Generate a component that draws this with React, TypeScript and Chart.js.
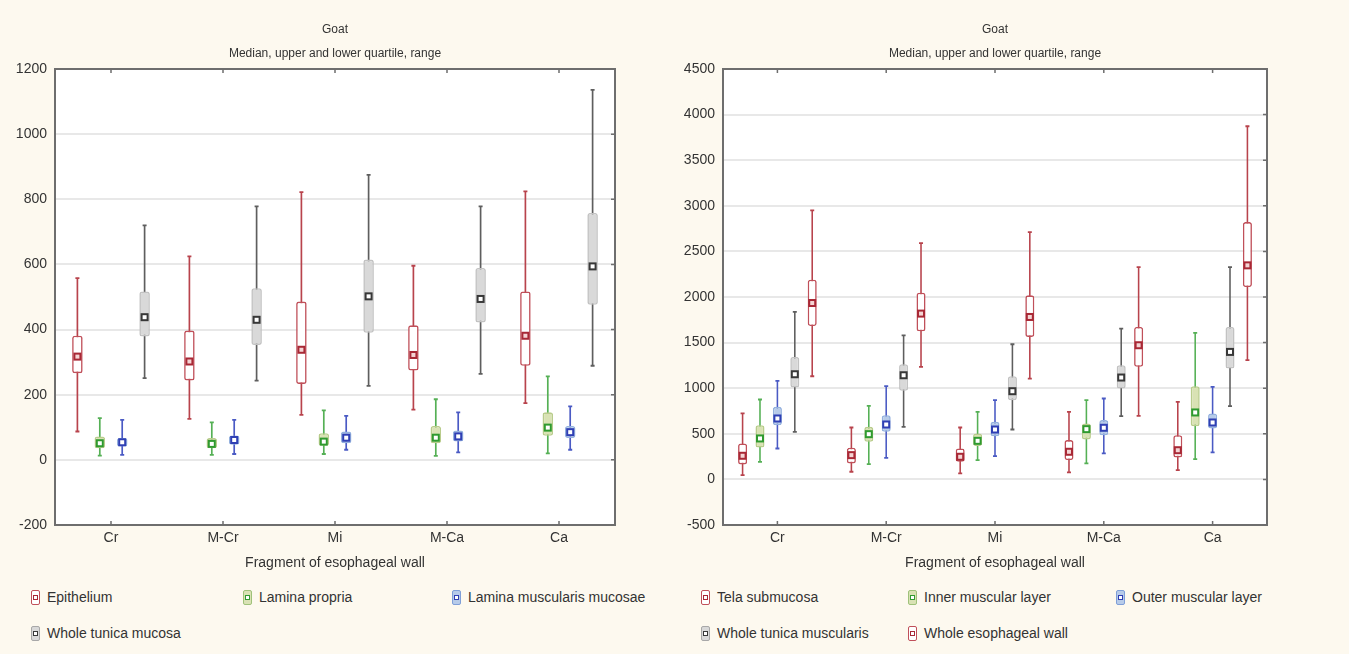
import React, { useEffect, useRef } from 'react';
import { Chart, registerables } from 'chart.js';
Chart.register(...registerables);

// [min, lower quartile, median, upper quartile, max] per fragment
const categories = ['Cr', 'M-Cr', 'Mi', 'M-Ca', 'Ca'];

const epithelium = [[87, 266, 317, 381, 558], [126, 244, 302, 397, 625], [138, 233, 338, 486, 822], [154, 274, 322, 413, 596], [174, 289, 381, 517, 824]];
const laminaPropria = [[13, 36, 51, 72, 128], [15, 36, 49, 67, 115], [18, 43, 56, 82, 152], [12, 51, 68, 104, 186], [20, 74, 99, 146, 256]];
const laminaMuscularisMucosae = [[15, 41, 54, 67, 123], [18, 46, 61, 75, 123], [31, 51, 68, 87, 135], [23, 56, 72, 90, 146], [31, 67, 85, 104, 164]];
const wholeTunicaMucosa = [[251, 379, 438, 517, 720], [243, 353, 430, 527, 778], [227, 390, 502, 615, 875], [264, 422, 494, 589, 778], [289, 476, 594, 758, 1136]];

const telaSubmucosa = [[47, 164, 259, 394, 723], [84, 175, 266, 347, 569], [66, 193, 248, 339, 569], [77, 212, 303, 431, 741], [102, 241, 320, 485, 850]];
const innerMuscularLayer = [[193, 350, 449, 595, 876], [168, 412, 496, 577, 807], [212, 365, 423, 504, 741], [175, 438, 551, 613, 869], [223, 584, 734, 1022, 1606]];
const outerMuscularLayer = [[339, 595, 668, 796, 1080], [237, 522, 602, 704, 1022], [255, 474, 547, 631, 869], [285, 485, 566, 650, 887], [296, 558, 624, 723, 1015]];
const wholeTunicaMuscularis = [[522, 1007, 1153, 1343, 1836], [577, 971, 1142, 1263, 1580], [547, 869, 967, 1131, 1482], [693, 996, 1117, 1252, 1653], [803, 1215, 1398, 1672, 2328]];
const wholeEsophagealWall = [[1131, 1682, 1934, 2190, 2949], [1234, 1624, 1818, 2047, 2591], [1106, 1562, 1781, 2018, 2712], [697, 1234, 1471, 1672, 2328], [1307, 2109, 2347, 2821, 3872]];

const leftTicks = { min: -200, max: 1200, step: 200 };
const rightTicks = { min: -500, max: 4500, step: 500 };

const FONT = "'Liberation Sans', Arial, sans-serif";

const RED = { line: '#b8434c', fill: '#ffffff', border: '#c0505a', marker: '#a82835', markerFill: '#f4d4d4', icon: '#c0505a' };
const GREEN = { line: '#55b055', fill: '#d9e2b4', border: '#b9cc8c', marker: '#2f9a2f', markerFill: '#ffffff', icon: '#9fc27a' };
const BLUE = { line: '#4a5ac4', fill: '#b7cbe9', border: '#94b1de', marker: '#2f3fb4', markerFill: '#ffffff', icon: '#7f9fd8' };
const GRAY = { line: '#5e5e5e', fill: '#d9d9d9', border: '#c2c2c2', marker: '#383838', markerFill: '#ffffff', icon: '#a8a8a8' };

type Series = { label: string; data: number[][]; c: typeof RED };

const leftSeries: Series[] = [
  { label: 'Epithelium', data: epithelium, c: RED },
  { label: 'Lamina propria', data: laminaPropria, c: GREEN },
  { label: 'Lamina muscularis mucosae', data: laminaMuscularisMucosae, c: BLUE },
  { label: 'Whole tunica mucosa', data: wholeTunicaMucosa, c: GRAY },
];
const rightSeries: Series[] = [
  { label: 'Tela submucosa', data: telaSubmucosa, c: RED },
  { label: 'Inner muscular layer', data: innerMuscularLayer, c: GREEN },
  { label: 'Outer muscular layer', data: outerMuscularLayer, c: BLUE },
  { label: 'Whole tunica muscularis', data: wholeTunicaMuscularis, c: GRAY },
  { label: 'Whole esophageal wall', data: wholeEsophagealWall, c: RED },
];

const extrasPlugin = {
  id: 'boxExtras',
  beforeDraw(chart: any) {
    const { ctx, chartArea: a } = chart;
    ctx.save();
    ctx.fillStyle = '#ffffff';
    ctx.fillRect(a.left, a.top, a.right - a.left, a.bottom - a.top);
    ctx.restore();
  },
  afterDatasetsDraw(chart: any, _args: any, opts: any) {
    const { ctx } = chart;
    const y = chart.scales.y;
    const series: Series[] = opts.series;
    const ms = opts.markerSize;
    ctx.save();
    series.forEach((s, i) => {
      const meta = chart.getDatasetMeta(2 * i);
      meta.data.forEach((el: any, j: number) => {
        const d = s.data[j];
        const x = el.x;
        ctx.strokeStyle = s.c.line;
        ctx.lineWidth = 1.8;
        ctx.beginPath();
        [d[0], d[4]].forEach((v) => {
          const py = y.getPixelForValue(v);
          ctx.moveTo(x - 2, py);
          ctx.lineTo(x + 2, py);
        });
        ctx.stroke();
        const my = y.getPixelForValue(d[2]);
        ctx.fillStyle = s.c.markerFill;
        ctx.fillRect(x - ms / 2, my - ms / 2, ms, ms);
        ctx.strokeStyle = s.c.marker;
        ctx.lineWidth = 2;
        ctx.strokeRect(x - ms / 2, my - ms / 2, ms, ms);
      });
    });
    ctx.restore();
  },
  afterDraw(chart: any) {
    const { ctx, chartArea: a } = chart;
    const x = chart.scales.x;
    const y = chart.scales.y;
    ctx.save();
    ctx.strokeStyle = '#6e6e6e';
    ctx.lineWidth = 2;
    ctx.strokeRect(a.left, a.top, a.right - a.left, a.bottom - a.top);
    ctx.lineWidth = 1.5;
    ctx.beginPath();
    x.ticks.forEach((_t: any, i: number) => {
      const px = x.getPixelForTick(i);
      ctx.moveTo(px, a.top);
      ctx.lineTo(px, a.top + 4);
      ctx.moveTo(px, a.bottom);
      ctx.lineTo(px, a.bottom - 4);
    });
    y.ticks.forEach((_t: any, i: number) => {
      const py = y.getPixelForTick(i);
      ctx.moveTo(a.right, py);
      ctx.lineTo(a.right - 4, py);
    });
    ctx.stroke();
    ctx.restore();
  },
};

function BoxChart(props: {
  series: Series[]; ticks: { min: number; max: number; step: number };
  width: number; height: number; yWidth: number; padRight: number;
  boxPct: number; whiskerPct: number; markerSize: number;
}) {
  const ref = useRef<HTMLCanvasElement>(null);
  useEffect(() => {
    const { series, ticks, yWidth, padRight, boxPct, whiskerPct, markerSize } = props;
    const datasets: any[] = [];
    series.forEach((s, i) => {
      datasets.push({
        label: s.label,
        data: s.data.map((d) => [d[1], d[3]]),
        stack: 's' + i,
        order: 1,
        backgroundColor: s.c.fill,
        borderColor: s.c.border,
        borderWidth: 1.6,
        borderSkipped: false,
        borderRadius: 2.5,
        barPercentage: boxPct,
        categoryPercentage: 0.8,
      });
      datasets.push({
        label: s.label + ' range',
        data: s.data.map((d) => [d[0], d[4]]),
        stack: 's' + i,
        order: 2,
        backgroundColor: s.c.line,
        borderWidth: 0,
        barPercentage: whiskerPct,
        categoryPercentage: 0.8,
      });
    });
    const chart = new Chart(ref.current!, {
      type: 'bar',
      data: { labels: categories, datasets },
      plugins: [extrasPlugin],
      options: {
        responsive: false,
        animation: false,
        layout: { padding: { left: 0, right: padRight, top: 0, bottom: 0 } },
        plugins: {
          legend: { display: false },
          tooltip: { enabled: false },
          title: {
            display: true, text: 'Goat', color: '#333', fullSize: false,
            font: { family: FONT, size: 12, weight: 'normal' },
            padding: { top: 22.8, bottom: 0 },
          },
          subtitle: {
            display: true, text: 'Median, upper and lower quartile, range', color: '#333', fullSize: false,
            font: { family: FONT, size: 12, weight: 'normal' },
            padding: { top: 9.6, bottom: 7.8 },
          },
          boxExtras: { series, markerSize },
        } as any,
        scales: {
          x: {
            stacked: true,
            grid: { display: false, drawTicks: false },
            border: { display: false },
            ticks: { color: '#333', padding: 5, font: { family: FONT, size: 14 } },
            title: {
              display: true, text: 'Fragment of esophageal wall', color: '#333',
              font: { family: FONT, size: 14 }, padding: { top: 0, bottom: 8.6 },
            },
            afterFit: (sc: any) => { sc.height = 55; },
          },
          y: {
            stacked: false,
            min: ticks.min, max: ticks.max,
            grid: { color: '#e8e8e8', lineWidth: 2, drawTicks: false },
            border: { display: false },
            ticks: {
              stepSize: ticks.step, padding: 8, color: '#333',
              font: { family: FONT, size: 14 },
              callback: (v: any) => String(v),
            },
            afterFit: (sc: any) => { sc.width = yWidth; },
          },
        },
      } as any,
    });
    return () => chart.destroy();
  }, []);
  return <canvas ref={ref} width={props.width} height={props.height} style={{ display: 'block' }} />;
}

function LegendItem(props: { label: string; c: typeof RED; x: number; y: number }) {
  const { label, c, x, y } = props;
  return (
    <div style={{ position: 'absolute', left: x, top: y - 9, height: 18, display: 'flex', alignItems: 'center', whiteSpace: 'nowrap' }}>
      <div style={{
        width: 7, height: 13, border: `1.5px solid ${c.icon}`, borderRadius: 2,
        background: c.fill, display: 'flex', alignItems: 'center', justifyContent: 'center', marginRight: 7,
      }}>
        <div style={{ width: 3, height: 3, border: `1.5px solid ${c.marker}`, background: '#fff' }} />
      </div>
      <span style={{ fontFamily: FONT, fontSize: 14, color: '#333' }}>{label}</span>
    </div>
  );
}

export default function App() {
  const row1 = 597, row2 = 633;
  return (
    <div style={{ position: 'fixed', left: 0, top: 0, width: 1349, height: 654, background: '#fdf9ef', overflow: 'hidden' }}>
      <div style={{ position: 'absolute', left: 0, top: 0 }}>
        <BoxChart series={leftSeries} ticks={leftTicks} width={674} height={580} yWidth={55} padRight={59}
          boxPct={0.47} whiskerPct={0.075} markerSize={6} />
      </div>
      <div style={{ position: 'absolute', left: 674, top: 0 }}>
        <BoxChart series={rightSeries} ticks={rightTicks} width={675} height={580} yWidth={49} padRight={82}
          boxPct={0.52} whiskerPct={0.09} markerSize={6} />
      </div>
      <LegendItem label={leftSeries[0].label} c={leftSeries[0].c} x={31} y={row1} />
      <LegendItem label={leftSeries[1].label} c={leftSeries[1].c} x={243} y={row1} />
      <LegendItem label={leftSeries[2].label} c={leftSeries[2].c} x={452} y={row1} />
      <LegendItem label={leftSeries[3].label} c={leftSeries[3].c} x={31} y={row2} />
      <LegendItem label={rightSeries[0].label} c={rightSeries[0].c} x={701} y={row1} />
      <LegendItem label={rightSeries[1].label} c={rightSeries[1].c} x={908} y={row1} />
      <LegendItem label={rightSeries[2].label} c={rightSeries[2].c} x={1116} y={row1} />
      <LegendItem label={rightSeries[3].label} c={rightSeries[3].c} x={701} y={row2} />
      <LegendItem label={rightSeries[4].label} c={rightSeries[4].c} x={908} y={row2} />
    </div>
  );
}
